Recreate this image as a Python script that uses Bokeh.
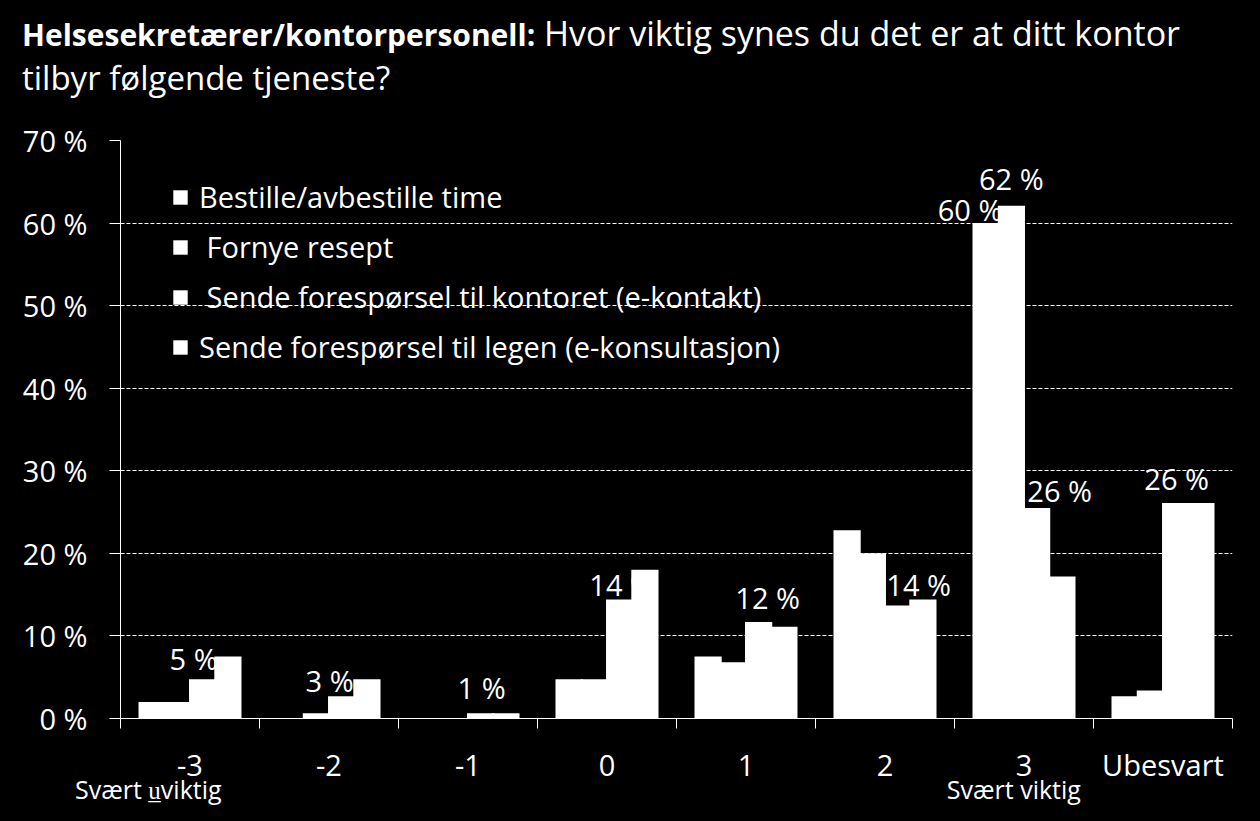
import re
from bokeh.plotting import figure
from bokeh.layouts import column
from bokeh.models import (ColumnDataSource, Range1d, FixedTicker, Legend, LegendItem, LinearAxis, Div)
from bokeh.core.properties import value
from bokeh.embed import file_html
from bokeh.resources import INLINE

# ---------------- data ----------------
categories = ["-3", "-2", "-1", "0", "1", "2", "3", "Ubesvart"]
series_names = [
    "Bestille/avbestille time",
    "\u00a0Fornye resept",
    "\u00a0Sende forespørsel til kontoret (e-kontakt)",
    "Sende forespørsel til legen (e-konsultasjon)",
]
bestille = [2.0, 0.0, 0.0, 4.75, 7.5, 22.8, 60.0, 2.7]
fornye = [2.0, 0.65, 0.0, 4.75, 6.8, 20.0, 62.1, 3.4]
e_kontakt = [4.75, 2.7, 0.65, 14.4, 11.7, 13.7, 25.5, 26.1]
e_konsultasjon = [7.5, 4.75, 0.65, 18.0, 11.1, 14.4, 17.2, 26.1]
y_ticks = [0, 10, 20, 30, 40, 50, 60, 70]
y_tick_labels = ["0 %", "10 %", "20 %", "30 %", "40 %", "50 %", "60 %", "70 %"]
scale_notes = {"-3": "Svært u\u0332viktig", "3": "Svært viktig"}
title_bold = "Helsesekretærer/kontorpersonell:"
title_rest = "Hvor viktig synes du det er at ditt kontor"
title_line2 = "tilbyr følgende tjeneste?"
# which bars carry a value label
labelled = {0: ["3"], 1: ["3"], 2: categories, 3: []}
# manual label nudges in pixels (dx, dy) per labelled bar
label_nudges = {
    0: {"3": (-16, 5)},
    1: {"3": (0, 18)},
    2: {"-3": (-9, 12), "-2": (-12, 7), "-1": (1, 17), "0": (2, 6),
        "1": (9, 15), "2": (21, 12), "3": (23, 8), "Ubesvart": (1, 15)},
}
LABEL_LIFT = 9  # extra upward shift of every value label (px)
# horizontal nudge (in category widths) of the scale notes
note_shift = {"-3": -0.30, "3": -0.073}

FONT = "Open Sans"
WHITE = "#FFFFFF"
BLACK = "#000000"
W, H = 1260, 821
TITLE_H = 112

# ---------------- title strip ----------------
title_html = (
    f'<div style="position:relative;width:{W}px;height:{TITLE_H}px;font-family:\'{FONT}\';'
    f'color:#ffffff;white-space:nowrap;">'
    f'<div style="position:absolute;left:22px;top:16px;font-size:34px;line-height:1;">'
    f'<span style="font-weight:bold;font-size:30px;">{title_bold}</span> {title_rest}</div>'
    f'<div style="position:absolute;left:22px;top:61px;font-size:33px;line-height:1;">'
    f'{title_line2}</div></div>'
)
title_div = Div(text=title_html, width=W, height=TITLE_H, margin=(0, 0, 0, 0),
                styles={"background-color": BLACK})

# ---------------- main chart ----------------
series = [bestille, fornye, e_kontakt, e_konsultasjon]
n = len(categories)
group_w = 0.727
bar_w = group_w / 4
bar_overlap = 0.014  # tiny overlap so adjacent white bars merge without seams
offsets = [(-1.5 + k) * bar_w for k in range(4)]

p = figure(width=W, height=H - TITLE_H, output_backend="svg", toolbar_location=None,
           x_range=Range1d(0, n), y_range=Range1d(0, 70),
           min_border_left=120, min_border_right=28, min_border_top=140 - TITLE_H,
           min_border_bottom=103, styles={"background-color": BLACK})
p.background_fill_color = BLACK
p.border_fill_color = BLACK
p.outline_line_color = None

yax = p.yaxis[0]
yax.ticker = FixedTicker(ticks=y_ticks, minor_ticks=[])
yax.major_label_overrides = {tk: lb for tk, lb in zip(y_ticks, y_tick_labels)}
yax.major_label_text_font = FONT
yax.major_label_text_font_size = "29px"
yax.major_label_text_color = WHITE
yax.axis_line_color = WHITE
yax.major_tick_line_color = WHITE
yax.major_tick_out = 11
yax.major_tick_in = 0
yax.minor_tick_line_color = None
yax.major_label_standoff = 22

centers = [i + 0.5 for i in range(n)]
xax = p.xaxis[0]
xax.ticker = FixedTicker(ticks=centers, minor_ticks=list(range(n + 1)))
xax.major_label_overrides = {c: cat for c, cat in zip(centers, categories)}
xax.major_label_text_font = FONT
xax.major_label_text_font_size = "29px"
xax.major_label_text_color = WHITE
xax.axis_line_color = WHITE
xax.major_tick_line_color = None
xax.major_tick_out = 0
xax.major_tick_in = 0
xax.minor_tick_line_color = WHITE
xax.minor_tick_out = 10
xax.minor_tick_in = 0
xax.major_label_standoff = 16

# second axis below: scale-end notes
note_ticks = [centers[categories.index(c)] + note_shift[c] for c in scale_notes]
nax = LinearAxis(ticker=FixedTicker(ticks=note_ticks, minor_ticks=[]),
                 major_label_overrides={tk: scale_notes[c] for tk, c in zip(note_ticks, scale_notes)})
nax.axis_line_color = None
nax.major_tick_line_color = None
nax.minor_tick_line_color = None
nax.major_tick_out = 0
nax.major_tick_in = 0
nax.major_label_text_font = FONT
nax.major_label_text_font_size = "25px"
nax.major_label_text_color = WHITE
nax.major_label_standoff = -15
p.add_layout(nax, "below")

p.xgrid.grid_line_color = None
p.ygrid.ticker = FixedTicker(ticks=y_ticks[1:])
p.ygrid.grid_line_color = WHITE
p.ygrid.grid_line_dash = "4 2"
p.ygrid.grid_line_width = 1

# bars + labels (label of series k drawn before bars of series k+1)
renderers = []
for k, vals in enumerate(series):
    src = ColumnDataSource(dict(x=[c + offsets[k] for c in centers], top=vals))
    r = p.vbar(x="x", top="top", width=bar_w + bar_overlap, bottom=0, source=src,
               fill_color=WHITE, line_color=None)
    renderers.append(r)
    cats = labelled.get(k, [])
    if cats:
        lx, ly, lt, dx, dy = [], [], [], [], []
        for cat in cats:
            i = categories.index(cat)
            v = vals[i]
            nx, ny = label_nudges[k][cat]
            lx.append(centers[i] + offsets[k])
            ly.append(v)
            lt.append(f"{round(v)} %")
            dx.append(nx)
            dy.append(-(ny + LABEL_LIFT))
        lsrc = ColumnDataSource(dict(x=lx, y=ly, t=lt, dx=dx, dy=dy))
        p.text(x="x", y="y", text="t", x_offset="dx", y_offset="dy", source=lsrc,
               text_font=value(FONT), text_font_size="29px", text_color=WHITE,
               text_align="center", text_baseline="alphabetic")

legend = Legend(items=[LegendItem(label=name, renderers=[r]) for name, r in zip(series_names, renderers)],
                location=(47, 348))
legend.background_fill_alpha = 0
legend.border_line_alpha = 0
legend.label_text_color = WHITE
legend.label_text_font = FONT
legend.label_text_font_size = "29px"
legend.glyph_width = 18
legend.glyph_height = 18
legend.label_standoff = 10
legend.spacing = 11
legend.padding = 4
legend.margin = 0
p.add_layout(legend)

layout = column(title_div, p, spacing=0, styles={"background-color": BLACK})
html = file_html(layout, INLINE)
html = re.sub(r"<body([^>]*)>", r'<body\1 style="background-color:#000000;">', html, count=1)
html = html.replace("</head>", "<style>html, body { background-color: #000000; }</style></head>", 1)
open("out.html", "w").write(html)
